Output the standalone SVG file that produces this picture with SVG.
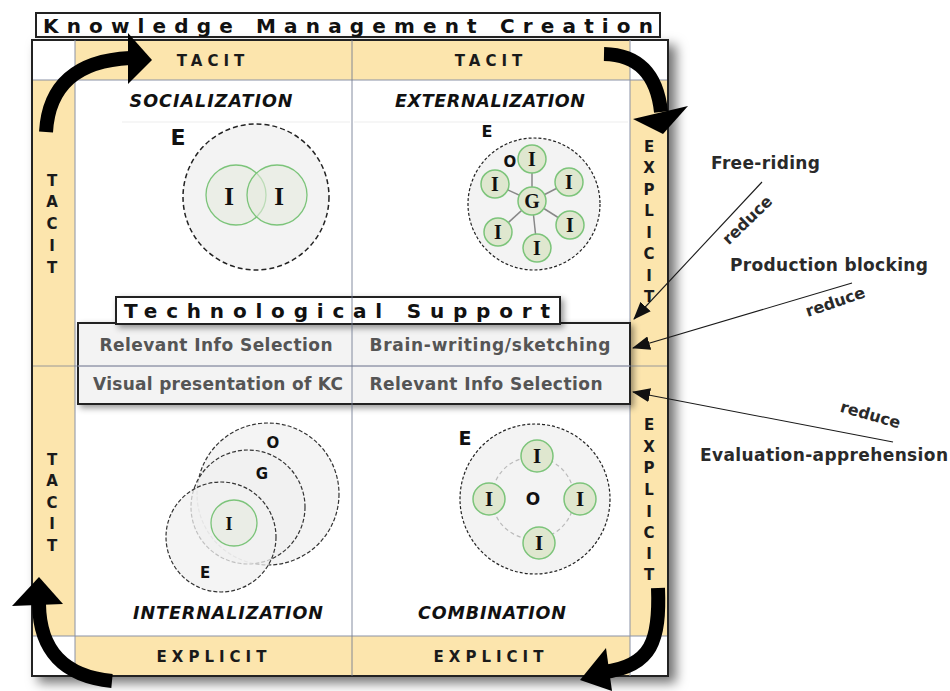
<svg xmlns="http://www.w3.org/2000/svg" width="950" height="691" viewBox="0 0 950 691">
<defs>
<filter id="sh" x="-10%" y="-10%" width="125%" height="125%"><feDropShadow dx="7" dy="6" stdDeviation="6" flood-color="#000" flood-opacity="0.55"/></filter>
<filter id="sh2" x="-10%" y="-30%" width="125%" height="180%"><feDropShadow dx="3" dy="3" stdDeviation="3" flood-color="#000" flood-opacity="0.4"/></filter>
<marker id="ah" markerWidth="18" markerHeight="14" refX="17" refY="7" orient="auto" markerUnits="userSpaceOnUse"><path d="M0,0 L18,7 L0,14 Z" fill="#111"/></marker>
<style>
.tan{fill:#fce5ad}
.grid{stroke:#8a92a6;stroke-width:1;fill:none}
.hdr{font-family:"DejaVu Sans",Verdana,sans-serif;font-weight:bold;font-size:15px;fill:#1a1a1a;text-anchor:middle}
.q{font-family:"DejaVu Sans",Verdana,sans-serif;font-weight:bold;font-style:italic;font-size:17.5px;fill:#111;text-anchor:middle}
.ts{font-family:"DejaVu Sans",Verdana,sans-serif;font-weight:bold;font-size:17px;fill:#555;text-anchor:middle}
.side{font-family:"DejaVu Sans",Verdana,sans-serif;font-weight:bold;font-size:17px;fill:#2a2a2a}
.red{font-family:"DejaVu Sans",Verdana,sans-serif;font-weight:bold;font-size:16px;fill:#2a2a2a;text-anchor:middle}
.env{fill:#f3f3f3;stroke:#222;stroke-width:1.5;stroke-dasharray:5 3}
.env2{fill:#f0f0f0;fill-opacity:0.75;stroke:#333;stroke-width:1.2;stroke-dasharray:4 2}
.ind{fill:#dfe7cf;stroke:#7cc47a;stroke-width:1.5}
.ind2{fill:#e6ebdf;fill-opacity:0.6;stroke:#7cc47a;stroke-width:1.3}
.I{font-family:"Liberation Serif","Times New Roman",serif;font-weight:bold;font-size:19px;fill:#111;text-anchor:middle}
.L{font-family:"DejaVu Sans",Verdana,sans-serif;font-weight:bold;font-size:15px;fill:#111;text-anchor:middle}
.big{fill:none;stroke:#000;stroke-width:14}
.conn{stroke:#1a1a1a;stroke-width:1.1;fill:none}
</style>
</defs>

<g id="title">
<rect x="36" y="13" width="624" height="24" fill="#fff" stroke="#222" stroke-width="2"/>
<text x="43" y="33" font-family="DejaVu Sans,Verdana,sans-serif" font-weight="bold" font-size="20" fill="#111" textLength="610" lengthAdjust="spacing">Knowledge Management Creation</text>
</g>

<g id="frame">
<rect x="32" y="40" width="636" height="636" fill="#fff" stroke="#222" stroke-width="2" filter="url(#sh)"/>
<rect class="tan" x="75" y="41" width="555" height="39"/>
<rect class="tan" x="75" y="636" width="555" height="39"/>
<rect class="tan" x="33" y="80" width="42" height="556"/>
<rect class="tan" x="630" y="80" width="37" height="556"/>
<path class="grid" d="M75,40 V676 M630,40 V676 M33,80 H667 M33,636 H667"/>
<line x1="122" y1="122" x2="350" y2="122" stroke="#ededed" stroke-width="1"/>
<line x1="354" y1="122" x2="628" y2="122" stroke="#ededed" stroke-width="1"/>
</g>

<g id="axis-labels">
<text class="hdr" x="213" y="66" letter-spacing="5">TACIT</text>
<text class="hdr" x="491" y="66" letter-spacing="5">TACIT</text>
<text class="hdr" x="214" y="662" letter-spacing="5">EXPLICIT</text>
<text class="hdr" x="491" y="662" letter-spacing="5">EXPLICIT</text>
<g class="hdr">
<text x="52" y="186">T</text><text x="52" y="207">A</text><text x="52" y="229">C</text><text x="52" y="251">I</text><text x="52" y="273">T</text>
<text x="52" y="465">T</text><text x="52" y="486">A</text><text x="52" y="508">C</text><text x="52" y="529">I</text><text x="52" y="551">T</text>
<text x="649" y="152">E</text><text x="649" y="173">X</text><text x="649" y="195">P</text><text x="649" y="216">L</text><text x="649" y="238">I</text><text x="649" y="259">C</text><text x="649" y="281">I</text><text x="649" y="302">T</text>
<text x="649" y="430">E</text><text x="649" y="452">X</text><text x="649" y="473">P</text><text x="649" y="495">L</text><text x="649" y="517">I</text><text x="649" y="538">C</text><text x="649" y="559">I</text><text x="649" y="580">T</text>
</g>
</g>

<g id="socialization">
<text class="q" x="211" y="107" textLength="163" lengthAdjust="spacing">SOCIALIZATION</text>
<text class="L" x="178" y="145" style="font-size:22px">E</text>
<circle class="env" cx="256" cy="197" r="73"/>
<circle class="ind2" cx="236" cy="195" r="30"/>
<circle class="ind2" cx="277" cy="195" r="30"/>
<text class="I" x="229" y="205" style="font-size:25px">I</text>
<text class="I" x="279" y="205" style="font-size:25px">I</text>
</g>

<g id="externalization">
<text class="q" x="490" y="107" textLength="190" lengthAdjust="spacing">EXTERNALIZATION</text>
<text class="L" x="487" y="137" style="font-size:16px">E</text>
<circle class="env" cx="534" cy="204" r="66" style="stroke-width:1.2;stroke-dasharray:3 2"/>
<g stroke="#888" stroke-width="1.5">
<line x1="532" y1="201" x2="532" y2="159"/><line x1="532" y1="201" x2="569" y2="182"/><line x1="532" y1="201" x2="570" y2="225"/>
<line x1="532" y1="201" x2="537" y2="248"/><line x1="532" y1="201" x2="498" y2="232"/><line x1="532" y1="201" x2="495" y2="184"/>
</g>
<circle class="ind" cx="532" cy="201" r="14"/>
<circle class="ind" cx="532" cy="159" r="14"/><circle class="ind" cx="569" cy="182" r="14"/><circle class="ind" cx="570" cy="225" r="14"/>
<circle class="ind" cx="537" cy="248" r="14"/><circle class="ind" cx="498" cy="232" r="14"/><circle class="ind" cx="495" cy="184" r="14"/>
<text class="I" x="532" y="208" style="font-size:20px">G</text>
<text class="I" x="532" y="166" style="font-size:20px">I</text><text class="I" x="569" y="189" style="font-size:20px">I</text><text class="I" x="570" y="232" style="font-size:20px">I</text>
<text class="I" x="537" y="255" style="font-size:20px">I</text><text class="I" x="498" y="239" style="font-size:20px">I</text><text class="I" x="495" y="191" style="font-size:20px">I</text>
<text class="L" x="510" y="167" style="font-size:15px">O</text>
</g>

<g id="internalization">
<text class="q" x="228" y="619" textLength="190" lengthAdjust="spacing">INTERNALIZATION</text>
<circle class="env2" cx="268" cy="494" r="71"/>
<circle class="env2" cx="248" cy="507" r="57"/>
<circle class="env2" cx="221" cy="537" r="55"/>
<circle class="ind2" cx="234" cy="523" r="23"/>
<text class="L" x="273" y="448" style="font-size:15px">O</text>
<text class="L" x="262" y="479" style="font-size:15px">G</text>
<text class="L" x="205" y="578" style="font-size:15px">E</text>
<text class="I" x="229" y="530" style="font-size:18px">I</text>
</g>

<g id="combination">
<text class="q" x="492" y="619" textLength="148" lengthAdjust="spacing">COMBINATION</text>
<text class="L" x="465" y="445" style="font-size:19px">E</text>
<circle class="env" cx="535" cy="499" r="75" style="stroke-width:1.2;stroke-dasharray:3 2"/>
<circle cx="533" cy="498" r="41" fill="none" stroke="#bbb" stroke-width="1.2" stroke-dasharray="4 3"/>
<circle class="ind" cx="537" cy="456" r="16"/><circle class="ind" cx="489" cy="499" r="16"/>
<circle class="ind" cx="580" cy="499" r="16"/><circle class="ind" cx="539" cy="543" r="16"/>
<text class="I" x="537" y="463" style="font-size:21px">I</text><text class="I" x="489" y="506" style="font-size:21px">I</text>
<text class="I" x="580" y="506" style="font-size:21px">I</text><text class="I" x="539" y="550" style="font-size:21px">I</text>
<text class="L" x="533" y="505" style="font-size:17px">O</text>
</g>

<g id="tech-support">
<rect x="78" y="323" width="552" height="81" fill="#f3f3f3" stroke="#222" stroke-width="2" filter="url(#sh2)"/>
<line x1="78" y1="366" x2="630" y2="366" stroke="#aab" stroke-width="1"/>
<rect x="116" y="297" width="444" height="27" fill="#fff" stroke="#222" stroke-width="2" filter="url(#sh2)"/>
<text x="124" y="318" font-family="DejaVu Sans,Verdana,sans-serif" font-weight="bold" font-size="20" fill="#111" textLength="426" lengthAdjust="spacing">Technological Support</text>
<text class="ts" x="216" y="351" textLength="233" lengthAdjust="spacing">Relevant Info Selection</text>
<text class="ts" x="490" y="351" textLength="241" lengthAdjust="spacing">Brain-writing/sketching</text>
<text class="ts" x="218" y="390" textLength="250" lengthAdjust="spacing">Visual presentation of KC</text>
<text class="ts" x="486" y="390" textLength="233" lengthAdjust="spacing">Relevant Info Selection</text>
</g>

<g id="gridlines">
<line x1="352" y1="40" x2="352" y2="676" stroke="#6f7890" stroke-width="1" opacity="0.85"/>
<line x1="33" y1="366" x2="667" y2="366" stroke="#6f7890" stroke-width="1" opacity="0.7"/>
</g>

<g id="cycle-arrows">
<path class="big" d="M46,132 Q50,62 130,58"/>
<polygon points="128,33 152,60 128,84" fill="#000"/>
<path class="big" d="M604,54 Q655,55 661,112"/>
<polygon points="633,119 688,106 663,134" fill="#000"/>
<path class="big" d="M658,588 C660,640 652,666 604,672"/>
<polygon points="606,648 612,691 580,680" fill="#000"/>
<path class="big" d="M39,604 Q40,674 112,681"/>
<polygon points="12,606 39,577 63,604" fill="#000"/>
</g>

<g id="factors">
<text class="side" x="711" y="169" textLength="109" lengthAdjust="spacing">Free-riding</text>
<text class="side" x="730" y="271" textLength="198" lengthAdjust="spacing">Production blocking</text>
<text class="side" x="700" y="461" textLength="248" lengthAdjust="spacing">Evaluation-apprehension</text>
</g>

<g id="connectors">
<line class="conn" x1="762" y1="182" x2="634" y2="319" marker-end="url(#ah)"/>
<line class="conn" x1="852" y1="283" x2="633" y2="348" marker-end="url(#ah)"/>
<line class="conn" x1="893" y1="442" x2="633" y2="392" marker-end="url(#ah)"/>
<text class="red" x="0" y="0" transform="translate(751,224) rotate(-44)">reduce</text>
<text class="red" x="0" y="0" transform="translate(837,307) rotate(-19)">reduce</text>
<text class="red" x="0" y="0" transform="translate(869,420) rotate(16)">reduce</text>
</g>
</svg>
